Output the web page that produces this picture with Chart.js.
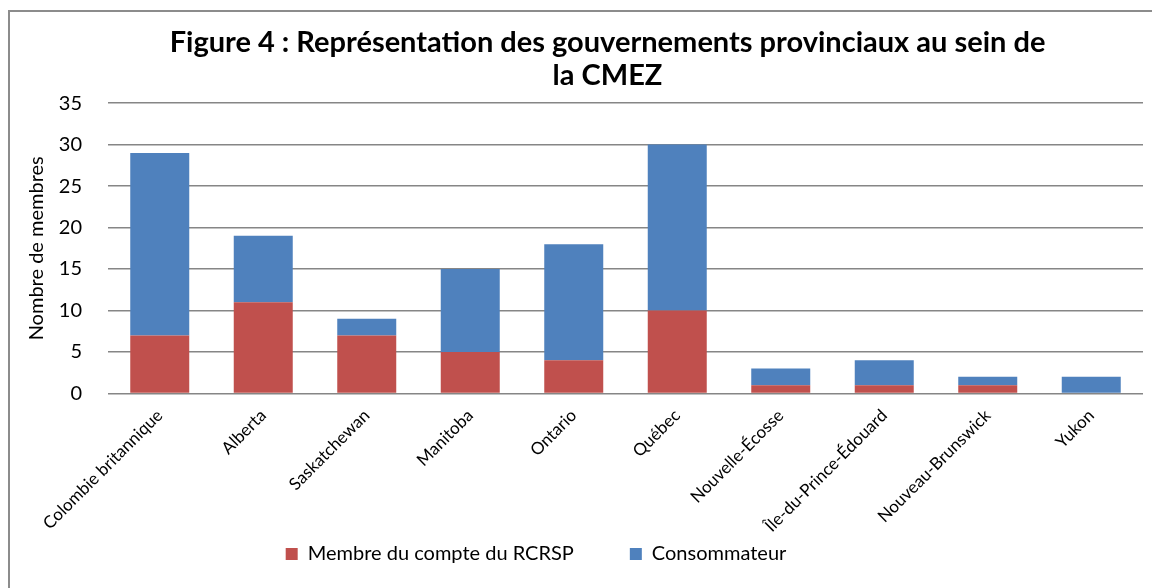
<!DOCTYPE html>
<html>
<head>
<meta charset="utf-8">
<script src="https://cdn.jsdelivr.net/npm/chart.js@4/dist/chart.umd.min.js"></script>
<style>
  html, body { margin: 0; padding: 0; background: #fff; overflow: hidden; }
  #frame { position: absolute; left: 8px; top: 10px; width: 1200px; height: 700px; border: 2px solid #8c8c8c; }
  #wrap { position: absolute; left: 0; top: 0; width: 1152px; height: 588px; }
</style>
</head>
<body>
<div id="frame"></div>
<div id="wrap"><canvas id="chart"></canvas></div>
<script>
// province categories
const provinces = ['Colombie britannique', 'Alberta', 'Saskatchewan', 'Manitoba', 'Ontario',
    'Québec', 'Nouvelle-Écosse', 'Île-du-Prince-Édouard', 'Nouveau-Brunswick', 'Yukon'];
// members of RCRSP account
const membres = [7, 11, 7, 5, 4, 10, 1, 1, 1, 0];
// consumers (stacked above)
const consommateurs = [22, 8, 2, 10, 14, 20, 2, 3, 1, 2];
const yTicks = [0, 5, 10, 15, 20, 25, 30, 35];

// legend: keep the wide gap between items but only reserve a short strip,
// then move it (and the title) where the original has them
const boxPlace = {
    id: 'boxPlace',
    afterInit(chart) {
        const legend = chart.legend;
        const fit = legend.fit;
        legend.fit = function () { fit.call(this); this.height = 48; };
    },
    afterLayout(chart) {
        const l = chart.legend;
        l.top = 554 - 10 - 56;
        l.left -= 48;
        l.right -= 48;
        const t = chart.titleBlock;
        t.left -= 18;
        t.right -= 18;
    }
};

window.addEventListener('DOMContentLoaded', function () {
    const ctx = document.getElementById('chart').getContext('2d');
    new Chart(ctx, {
        type: 'bar',
        data: {
            labels: provinces,
            datasets: [
                { label: 'Membre du compte du RCRSP', data: membres, backgroundColor: '#C0504D' },
                { label: 'Consommateur', data: consommateurs, backgroundColor: '#4F81BD' }
            ]
        },
        plugins: [boxPlace],
        options: {
            responsive: true,
            maintainAspectRatio: false,
            animation: false,
            layout: { autoPadding: false, padding: { left: 25, right: 9, top: 0, bottom: 0 } },
            datasets: { bar: { categoryPercentage: 1, barPercentage: 0.57 } },
            plugins: {
                title: {
                    display: true,
                    fullSize: false,
                    text: ['Figure 4 : Représentation des gouvernements provinciaux au sein de', 'la CMEZ'],
                    font: { family: 'Lato', size: 29, weight: 'bold', lineHeight: 1.14 },
                    color: '#000',
                    padding: { top: 26, bottom: 11 }
                },
                legend: {
                    position: 'bottom',
                    labels: {
                        boxWidth: 12, boxHeight: 12, padding: 56,
                        font: { family: 'Lato', size: 20 }, color: '#000'
                    }
                },
                tooltip: { enabled: false }
            },
            scales: {
                x: {
                    stacked: true,
                    grid: { display: false },
                    border: { display: false },
                    // first rotated label may hang past the plot's left edge
                    afterFit: function (scale) {
                        scale.paddingLeft = 0;
                        scale.getPadding = function () { return { left: 0, top: 0, right: 0, bottom: 0 }; };
                    },
                    ticks: {
                        minRotation: 45, maxRotation: 45, color: '#000', padding: 4,
                        font: { family: 'Lato', size: 17 }
                    }
                },
                y: {
                    stacked: true,
                    min: 0, max: 35,
                    afterBuildTicks: function (axis) { axis.ticks = yTicks.map(v => ({ value: v })); },
                    afterFit: function (scale) { scale.width = 83; },
                    grid: { color: '#868686', lineWidth: 1.5, drawTicks: false },
                    border: { display: false },
                    ticks: { color: '#000', padding: 26, font: { family: 'Lato', size: 20 } },
                    title: {
                        display: true, text: 'Nombre de membres', color: '#000',
                        font: { family: 'Lato', size: 20 }, padding: { top: 0, bottom: 9 }
                    }
                }
            }
        }
    });
});
</script>
</body>
</html>
